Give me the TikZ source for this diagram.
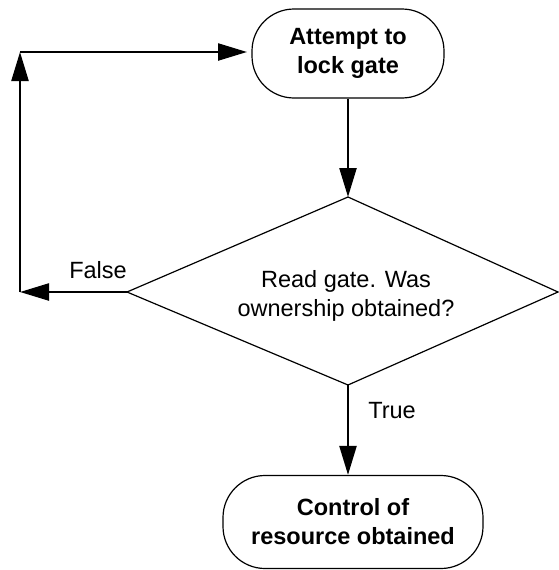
\documentclass[tikz,border=0pt]{standalone}
\usepackage{fontspec}
\setmainfont{Liberation Sans}
\usetikzlibrary{arrows.meta}
\begin{document}
\begin{tikzpicture}[x=1pt,y=-1pt,
  term/.style={draw=black,line width=1.2pt,rounded corners=42pt,inner sep=0pt,
    align=center,font=\fontsize{23.5}{29}\selectfont\bfseries},
  dlabel/.style={align=center,font=\fontsize{23.5}{29}\selectfont,inner sep=0pt},
  flow/.style={line width=2.3pt,-{Triangle[length=29pt,width=17pt]}},
  outline/.style={line width=1.2pt}]
\useasboundingbox (0,0) rectangle (559,570);
\node[term,minimum width=192pt,minimum height=89pt] (start) at (348,53.5) {Attempt to\\lock gate};
\node[term,minimum width=260pt,minimum height=93pt] (done) at (353,522) {Control of\\resource obtained};
\coordinate (dt) at (348,197);
\coordinate (db) at (348,385);
\coordinate (dl) at (127,292);
\coordinate (dr) at (558,292);
\draw[outline] (dt) -- (dr) -- (db) -- (dl) -- cycle;
\node[dlabel] (q) at (346,296) {Read gate. Was\\ownership obtained?};
\coordinate (c1) at (20,292);
\coordinate (c2) at (20,52);
\coordinate (c3) at (247,52);
\draw[flow] (start.south) -- (dt);
\draw[flow] (dl) -- (c1);
\draw[flow] (c1) -- (c2);
\draw[flow] (c2) -- (c3);
\draw[flow] (db) -- (done.north -| db);
\node[dlabel] (f) at (98,270) {False};
\node[dlabel] (t) at (392,411) {True};
\end{tikzpicture}
\end{document}
